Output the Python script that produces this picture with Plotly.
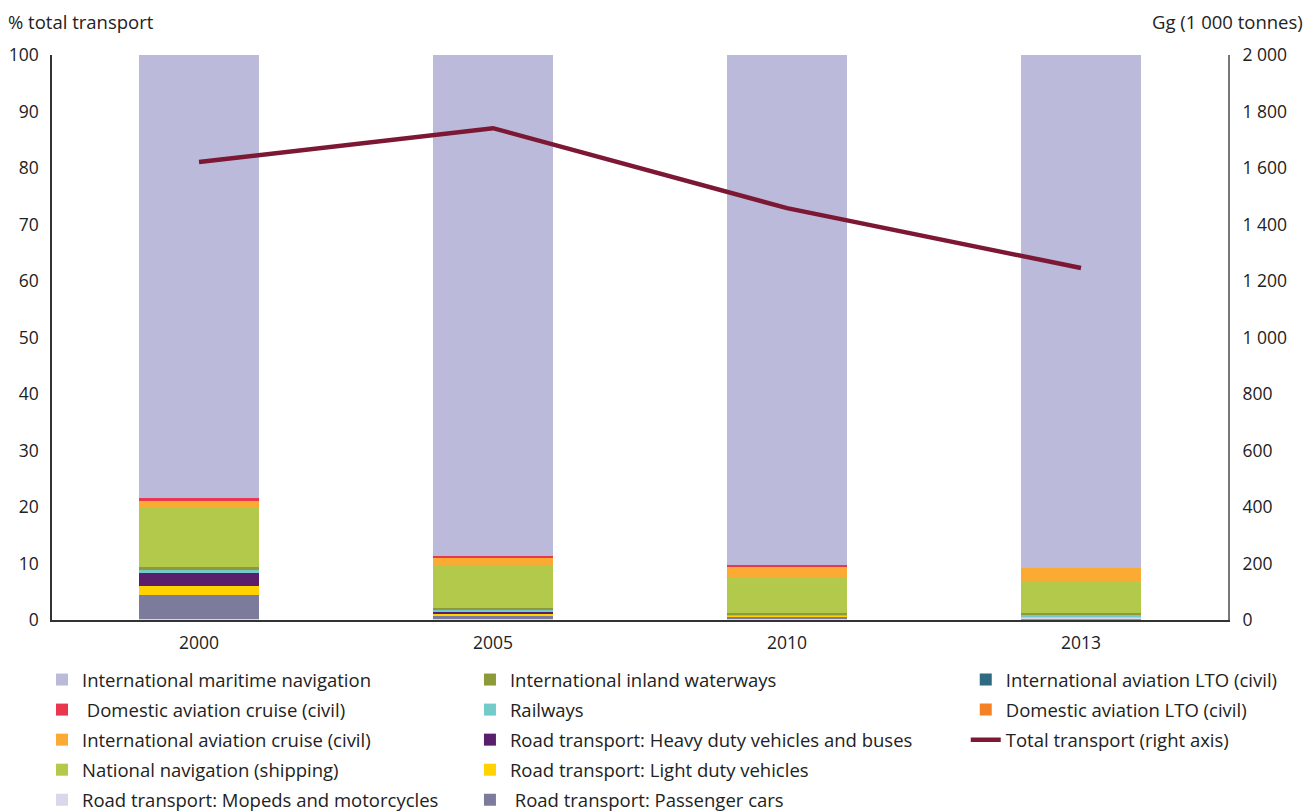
import plotly.graph_objects as go

years = ["2000", "2005", "2010", "2013"]

intl_lto = [0.05, 0.05, 0.05, 0.05]
dom_lto = [0.1, 0.1, 0.1, 0.3]
mopeds = [0.05, 0.05, 0.02, 0.02]
passenger_cars = [4.3, 0.6, 0.5, 0.15]
light_duty = [1.5, 0.3, 0.05, 0.02]
heavy_duty = [2.4, 0.4, 0.15, 0.05]
railways = [0.6, 0.3, 0.05, 0.3]
inland_waterways = [0.3, 0.3, 0.35, 0.35]
national_nav = [10.6, 7.6, 6.3, 5.4]
intl_cruise = [1.3, 1.35, 1.9, 2.5]
dom_cruise = [0.35, 0.35, 0.3, 0.0]
maritime = [78.45, 88.6, 90.23, 90.86]

total_transport = [1621, 1741, 1458, 1246]

right_ticks = [0, 200, 400, 600, 800, 1000, 1200, 1400, 1600, 1800, 2000]
right_tick_text = ["0", "200", "400", "600", "800", "1 000", "1 200", "1 400", "1 600", "1 800", "2 000"]

# (name, values, color, legend, rank) in stacking order bottom -> top
series = [
    ("International aviation LTO (civil)", intl_lto, "#2E6A80", "legend3", 1),
    ("Domestic aviation LTO (civil)", dom_lto, "#F48224", "legend3", 2),
    ("Road transport: Mopeds and motorcycles", mopeds, "#DAD7EA", "legend", 5),
    (" Road transport: Passenger cars", passenger_cars, "#7D7B9C", "legend2", 5),
    ("Road transport: Light duty vehicles", light_duty, "#FFD200", "legend2", 4),
    ("Road transport: Heavy duty vehicles and buses", heavy_duty, "#5A1F6A", "legend2", 3),
    ("Railways", railways, "#72CBC8", "legend2", 2),
    ("International inland waterways", inland_waterways, "#8C9A3A", "legend2", 1),
    ("National navigation (shipping)", national_nav, "#B3C94B", "legend", 4),
    ("International aviation cruise (civil)", intl_cruise, "#FBAB34", "legend", 3),
    (" Domestic aviation cruise (civil)", dom_cruise, "#E8374F", "legend", 2),
    ("International maritime navigation", maritime, "#BCBADB", "legend", 1),
]

FONT = "Open Sans, Noto Sans, sans-serif"
LEGSIZE = 18.5
TICKSIZE = 17.5
fig = go.Figure()
for i, (name, vals, color, leg, rank) in enumerate(series):
    fig.add_trace(go.Bar(
        x=years, y=vals, name=name, marker=dict(color=color, line=dict(width=0)),
        legend=leg, legendrank=rank, legendgroup="g%d" % i,
    ))

fig.add_trace(go.Scatter(
    x=years, y=total_transport, name="Total transport (right axis)", yaxis="y2",
    mode="lines", line=dict(color="#7C1734", width=4.5),
    legend="legend3", legendrank=3, legendgroup="gline",
))

leg_common = dict(
    orientation="v", yanchor="top", y=-0.0726, xanchor="left",
    font=dict(family=FONT, size=LEGSIZE, color="#222"),
    tracegroupgap=3, bgcolor="rgba(0,0,0,0)", traceorder="grouped",
)

fig.update_layout(
    width=1307, height=804,
    margin=dict(l=44, r=87, t=47, b=192, autoexpand=False),
    plot_bgcolor="white", paper_bgcolor="white",
    barmode="stack", bargap=0.595,
    font=dict(family=FONT, size=TICKSIZE, color="#222"),
    showlegend=True,
    legend=dict(x=-0.0085, **leg_common),
    legend2=dict(x=0.3554, **leg_common),
    legend3=dict(x=0.777, **leg_common),
    xaxis=dict(showline=True, linecolor="#333", linewidth=2, ticks="",
               tickfont=dict(size=TICKSIZE), showgrid=False, ticklabelstandoff=6),
    yaxis=dict(range=[0, 100], tickvals=list(range(0, 101, 10)), showline=True,
               linecolor="#333", linewidth=1.5, ticks="", showgrid=False, zeroline=False,
               tickfont=dict(size=TICKSIZE), ticklabelstandoff=8),
    yaxis2=dict(range=[0, 2000], overlaying="y", side="right", tickvals=right_ticks,
                ticktext=right_tick_text, showline=True, linecolor="#777", linewidth=2,
                ticks="", showgrid=False, zeroline=False, tickfont=dict(size=TICKSIZE),
                ticklabelstandoff=9),
    annotations=[
        dict(text="% total transport", xref="paper", yref="paper", x=-0.0395, y=1.0,
             xanchor="left", yanchor="bottom", yshift=19, showarrow=False,
             font=dict(size=18.5, family=FONT, color="#222")),
        dict(text="Gg (1 000 tonnes)", xref="paper", yref="paper", x=1.0655, y=1.0,
             xanchor="right", yanchor="bottom", yshift=19, showarrow=False,
             font=dict(size=18.5, family=FONT, color="#222")),
    ],
)

fig.write_html("out.html")
